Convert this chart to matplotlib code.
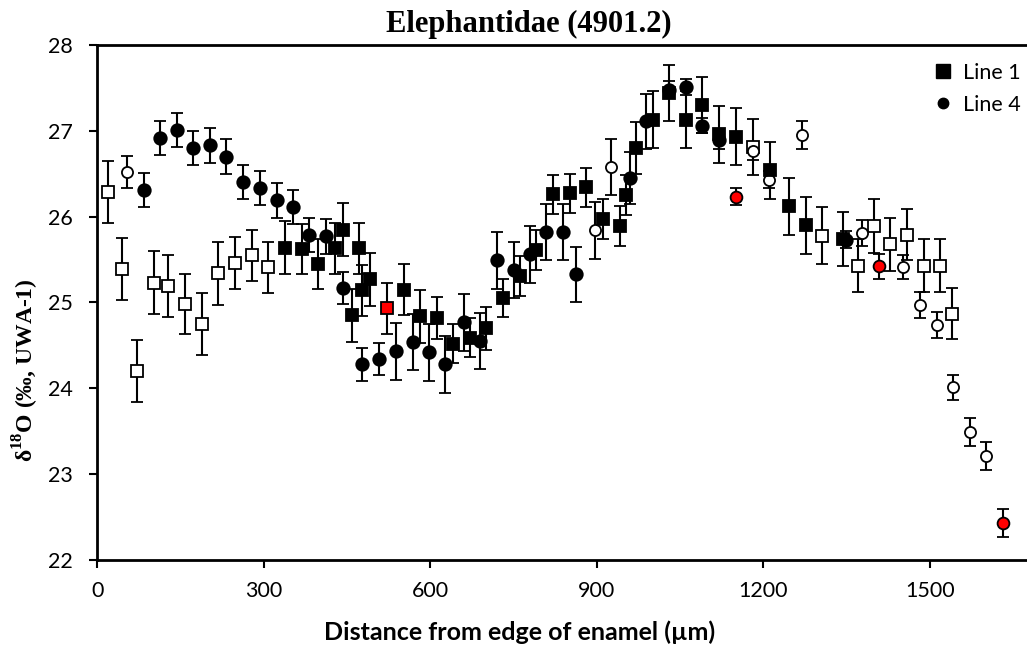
import numpy as np
import matplotlib
matplotlib.use("Agg")
import matplotlib.pyplot as plt
from matplotlib.lines import Line2D

# Line 1 (filled squares)
line1_x = [338, 368, 398, 428, 443, 458, 472, 477, 491,
           552, 582, 612, 641, 671, 700, 731, 761, 791,
           821, 851, 881, 911, 941, 953, 971,
           1001, 1030, 1060, 1090, 1120, 1150,
           1212, 1246, 1276, 1344]
line1_y = [25.64, 25.62, 25.45, 25.63, 25.85, 24.85, 25.63, 25.14, 25.27,
           25.15, 24.84, 24.82, 24.52, 24.59, 24.70, 25.05, 25.31, 25.61,
           26.26, 26.27, 26.34, 25.97, 25.89, 26.25, 26.80,
           27.13, 27.44, 27.13, 27.30, 26.96, 26.93,
           26.54, 26.12, 25.90, 25.74]
line1_err = [0.31, 0.29, 0.29, 0.30, 0.31, 0.31, 0.30, 0.30, 0.31,
             0.30, 0.31, 0.24, 0.23, 0.23, 0.25, 0.22, 0.23, 0.23,
             0.23, 0.23, 0.23, 0.23, 0.23, 0.23, 0.30,
             0.33, 0.33, 0.33, 0.33, 0.33, 0.33,
             0.33, 0.33, 0.33, 0.31]

# Line 4 (filled circles)
line4_x = [83, 113, 143, 173, 203, 232, 262, 292, 323, 352,
           382, 412, 442, 477, 507, 538, 568, 597, 627, 660,
           690, 720, 750, 779, 809, 839, 862,
           959, 989, 1030, 1060, 1090, 1120, 1348]
line4_y = [26.31, 26.92, 27.01, 26.80, 26.83, 26.70, 26.40, 26.33, 26.19, 26.11,
           25.79, 25.77, 25.17, 24.28, 24.34, 24.43, 24.54, 24.42, 24.28, 24.77,
           24.55, 25.49, 25.38, 25.56, 25.82, 25.82, 25.33,
           26.45, 27.11, 27.48, 27.51, 27.06, 26.89, 25.73]
line4_err = [0.20, 0.20, 0.20, 0.20, 0.20, 0.20, 0.20, 0.20, 0.20, 0.20,
             0.20, 0.20, 0.19, 0.19, 0.19, 0.33, 0.33, 0.33, 0.33, 0.33,
             0.33, 0.33, 0.33, 0.33, 0.33, 0.33, 0.32,
             0.30, 0.32, 0.10, 0.09, 0.09, 0.10, 0.10]

# excluded Line 1 points (open squares)
open_sq_x = [19, 44, 72, 102, 128, 158, 188, 218, 248, 278, 308,
             1181, 1306, 1370, 1400, 1429, 1459, 1489, 1519, 1539]
open_sq_y = [26.29, 25.39, 24.20, 25.23, 25.19, 24.98, 24.75, 25.34, 25.46, 25.55, 25.41,
             26.81, 25.78, 25.43, 25.89, 25.68, 25.79, 25.43, 25.43, 24.87]
open_sq_err = [0.36, 0.36, 0.36, 0.37, 0.36, 0.35, 0.36, 0.37, 0.30, 0.30, 0.30,
               0.33, 0.33, 0.31, 0.31, 0.31, 0.30, 0.31, 0.31, 0.30]

# excluded Line 4 points (open circles)
open_ci_x = [53, 896, 926, 1181, 1210, 1270, 1378, 1452, 1483, 1512, 1542, 1572, 1602]
open_ci_y = [26.52, 25.84, 26.58, 26.76, 26.43, 26.95, 25.81, 25.41, 24.97, 24.74, 24.01, 23.49, 23.21]
open_ci_err = [0.19, 0.33, 0.33, 0.10, 0.10, 0.16, 0.15, 0.14, 0.15, 0.15, 0.15, 0.16, 0.16]

# highlighted points (red)
red_sq_x = [522]
red_sq_y = [24.93]
red_sq_err = [0.30]
red_ci_x = [1150, 1408, 1631]
red_ci_y = [26.23, 25.42, 22.43]
red_ci_err = [0.10, 0.15, 0.16]

plt.rcParams['mathtext.fontset'] = 'custom'
plt.rcParams['mathtext.rm'] = 'Liberation Serif:bold'
plt.rcParams['mathtext.bf'] = 'Liberation Serif:bold'

tick_font = 'Lato'

fig = plt.figure(figsize=(10.27, 6.5), dpi=100)
ax = fig.add_axes([0.0949, 0.1385, 0.9051, 0.7923])

ebkw = dict(ls='none', ecolor='black', elinewidth=1.5, capsize=4.6, capthick=1.5,
            markeredgecolor='black', markeredgewidth=1.3)

ax.errorbar(open_sq_x, open_sq_y, yerr=open_sq_err, marker='s', ms=8, mfc='white', **ebkw)
ax.errorbar(open_ci_x, open_ci_y, yerr=open_ci_err, marker='o', ms=8, mfc='white', **ebkw)
ax.errorbar(line1_x, line1_y, yerr=line1_err, marker='s', ms=8.5, mfc='black', **ebkw)
ax.errorbar(line4_x, line4_y, yerr=line4_err, marker='o', ms=9, mfc='black', **ebkw)
ax.errorbar(red_sq_x, red_sq_y, yerr=red_sq_err, marker='s', ms=8.5, mfc='red', **ebkw)
ax.errorbar(red_ci_x, red_ci_y, yerr=red_ci_err, marker='o', ms=8.5, mfc='red', **ebkw)

ax.set_xlim(0, 1675)
ax.set_ylim(22, 28)
ax.set_xticks([0, 300, 600, 900, 1200, 1500])
ax.set_yticks([22, 23, 24, 25, 26, 27, 28])

for s in ['left', 'bottom', 'top']:
    ax.spines[s].set_linewidth(2)
ax.spines['right'].set_visible(False)
ax.tick_params(axis='both', direction='out', length=6, width=1.5, labelsize=15.5)
ax.tick_params(axis='x', pad=9)
ax.tick_params(axis='y', pad=12)
for lab in ax.get_xticklabels() + ax.get_yticklabels():
    lab.set_fontfamily(tick_font)

handles = [Line2D([], [], ls='none', marker='s', ms=10, color='black'),
           Line2D([], [], ls='none', marker='o', ms=7.5, color='black')]
ax.legend(handles, ['Line 1', 'Line 4'], loc='upper right', bbox_to_anchor=(0.993, 0.965),
          frameon=False, borderpad=0, borderaxespad=0, handlelength=0.9,
          handletextpad=0.45, labelspacing=0.55,
          prop={'family': tick_font, 'size': 15.5})

fig.text(0.515, 0.962, 'Elephantidae (4901.2)', ha='center', va='center',
         fontfamily='Liberation Serif', fontweight='bold', fontsize=22)
fig.text(0.506, 0.028, 'Distance from edge of enamel (\u00b5m)', ha='center', va='center',
         fontfamily=tick_font, fontweight='bold', fontsize=18)
fig.text(0.025, 0.43, '\u03b4$^{18}$O (\u2030, UWA-1)', ha='center', va='center', rotation=90,
         fontfamily='Liberation Serif', fontweight='bold', fontsize=17)

fig.savefig('out.png', dpi=100)
